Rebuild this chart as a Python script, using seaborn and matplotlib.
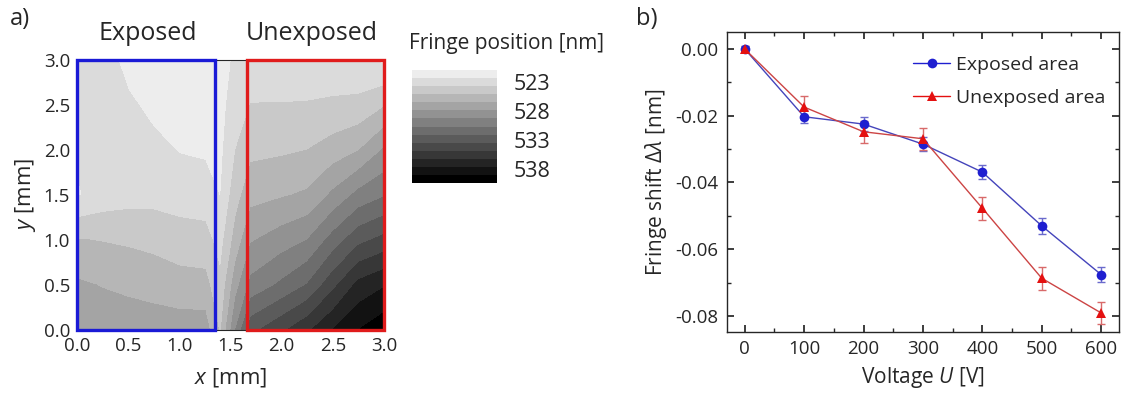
import numpy as np
import pandas as pd
import matplotlib
matplotlib.use("Agg")
import matplotlib.pyplot as plt
from matplotlib.colors import ListedColormap
from matplotlib.patches import Rectangle
import seaborn as sns

# ---- panel a: fringe position map [nm] ----
map_x = [0.0, 0.25, 0.5, 0.75, 1.0, 1.25, 1.4, 1.55, 1.7, 2.0, 2.25, 2.5, 2.75, 3.0]
map_y = [0.0, 0.5, 1.0, 1.5, 2.0, 2.5, 3.0]
fringe_pos = [
    [527.34, 527.34, 527.41, 527.27, 527.20, 527.20, 524.82, 529.30, 533.08, 534.62, 536.02, 537.70, 539.10, 540.08],
    [526.71, 526.43, 526.15, 525.94, 525.66, 525.59, 523.98, 527.34, 529.72, 530.98, 532.17, 534.48, 536.72, 537.56],
    [525.17, 525.03, 524.89, 524.68, 524.33, 524.19, 523.14, 525.66, 527.76, 528.60, 529.30, 531.26, 533.08, 533.92],
    [522.16, 522.86, 523.14, 523.21, 523.07, 523.00, 522.23, 524.54, 526.01, 526.36, 526.71, 528.18, 529.72, 530.56],
    [522.44, 522.86, 522.93, 522.72, 522.23, 522.09, 521.95, 523.70, 524.75, 524.89, 525.10, 525.73, 526.43, 528.04],
    [523.00, 523.00, 522.58, 521.88, 521.60, 521.60, 521.74, 523.14, 523.73, 523.74, 523.77, 523.91, 524.05, 524.96],
    [523.14, 523.14, 521.74, 521.46, 521.39, 521.46, 521.60, 522.58, 523.00, 523.00, 522.93, 522.79, 522.58, 522.02],
]
cbar_ticks = [523, 528, 533, 538]

# ---- panel b: fringe shift vs voltage ----
voltage = [0, 100, 200, 300, 400, 500, 600]
shift_exposed = [0.0, -0.0203, -0.0225, -0.0285, -0.0369, -0.0530, -0.0676]
err_exposed = [0.0008, 0.0020, 0.0020, 0.0020, 0.0021, 0.0023, 0.0023]
shift_unexposed = [0.0, -0.0174, -0.0248, -0.0269, -0.0477, -0.0687, -0.0791]
err_unexposed = [0.0010, 0.0032, 0.0033, 0.0033, 0.0035, 0.0035, 0.0033]

sns.set_theme(style="ticks")
plt.rcParams["font.family"] = ["Open Sans", "DejaVu Sans"]
plt.rcParams["mathtext.fontset"] = "custom"
plt.rcParams["mathtext.rm"] = "Open Sans"
plt.rcParams["mathtext.it"] = "Open Sans:italic"
plt.rcParams["axes.unicode_minus"] = False

fig = plt.figure(figsize=(11.43, 3.95), dpi=100)

# ---------- panel a ----------
ax_a = fig.add_axes([0.0674, 0.1646, 0.2686, 0.6835])
levels = np.linspace(520.9, 540.5, 15)
grays = np.linspace(0.93, 0.0, 14)
cmap = ListedColormap([(g, g, g) for g in grays])
Z = np.array(fringe_pos)
cf = ax_a.contourf(map_x, map_y, Z, levels=levels, cmap=cmap)
ax_a.set_xlim(0, 3)
ax_a.set_ylim(0, 3)
ax_a.set_xticks(np.arange(0, 3.01, 0.5))
ax_a.set_yticks(np.arange(0, 3.01, 0.5))
ax_a.tick_params(direction="in", top=True, right=True, labelsize=13.5, length=4, pad=5)
ax_a.set_xlabel("$x$ [mm]", fontsize=16, labelpad=8)
ax_a.set_ylabel("$y$ [mm]", fontsize=16, labelpad=4)
for s in ax_a.spines.values():
    s.set_linewidth(0.8)

ax_a.add_patch(Rectangle((0.0, 0.0), 1.35, 3.0, fill=False, edgecolor="#1a1ad6", lw=2.4, clip_on=False, zorder=5))
ax_a.add_patch(Rectangle((1.66, 0.0), 1.34, 3.0, fill=False, edgecolor="#e01b1b", lw=2.4, clip_on=False, zorder=5))

fig.text(0.1295, 0.916, "Exposed", fontsize=18, ha="center", va="center")
fig.text(0.273, 0.916, "Unexposed", fontsize=18, ha="center", va="center")
fig.text(0.009, 0.952, "a)", fontsize=17, ha="left", va="center")

# colorbar
cax = fig.add_axes([0.3605, 0.5367, 0.0744, 0.286])
cb = fig.colorbar(cf, cax=cax, ticks=cbar_ticks)
cb.outline.set_visible(False)
cax.invert_yaxis()
cax.tick_params(length=0, labelsize=15.5, pad=12)
fig.text(0.3578, 0.891, "Fringe position [nm]", fontsize=15, ha="left", va="center")

# ---------- panel b ----------
ax_b = fig.add_axes([0.636, 0.1595, 0.343, 0.7595])
df = pd.DataFrame({
    "Voltage": voltage * 2,
    "Shift": shift_exposed + shift_unexposed,
    "Area": ["Exposed area"] * len(voltage) + ["Unexposed area"] * len(voltage),
})
blue, red = "#1f1fd0", "#e41010"
sns.lineplot(data=df, x="Voltage", y="Shift", hue="Area", style="Area",
             palette={"Exposed area": blue, "Unexposed area": red},
             markers={"Exposed area": "o", "Unexposed area": "^"},
             dashes=False, markersize=7, markeredgewidth=0, linewidth=1.0,
             ax=ax_b, zorder=3)
for line, c, mc in zip(ax_b.lines[:2], ["#4444bb", "#cc4444"], [blue, red]):
    line.set_color(c)
    line.set_markerfacecolor(mc)
ax_b.errorbar(voltage, shift_exposed, yerr=err_exposed, fmt="none",
              ecolor="#6a6acc", elinewidth=1, capsize=3, zorder=2)
ax_b.errorbar(voltage, shift_unexposed, yerr=err_unexposed, fmt="none",
              ecolor="#d86a6a", elinewidth=1, capsize=3, zorder=2)

ax_b.set_xlim(-30, 630)
ax_b.set_ylim(-0.0848, 0.0051)
ax_b.set_xticks(voltage)
ax_b.set_xticks([50, 150, 250, 350, 450, 550], minor=True)
ax_b.set_yticks([0.0, -0.02, -0.04, -0.06, -0.08])
ax_b.set_yticks([-0.01, -0.03, -0.05, -0.07], minor=True)
ax_b.set_yticklabels(["0.00", "-0.02", "-0.04", "-0.06", "-0.08"])
ax_b.tick_params(which="both", direction="in", top=True, right=True, labelsize=13.5, pad=6)
ax_b.tick_params(which="major", length=5)
ax_b.tick_params(which="minor", length=3)
ax_b.set_xlabel("Voltage $U$ [V]", fontsize=15, labelpad=5)
ax_b.set_ylabel(r"Fringe shift $\Delta\lambda$ [nm]", fontsize=15, labelpad=5)
for s in ax_b.spines.values():
    s.set_linewidth(1.0)

handles, labels = ax_b.get_legend_handles_labels()
for h in handles:
    h.set_markersize(7)
ax_b.legend(handles, labels, loc="upper right", frameon=False, fontsize=14,
            handlelength=1.9, handletextpad=0.3, borderaxespad=0.3,
            labelspacing=0.75, bbox_to_anchor=(1.0, 0.965))
fig.text(0.5565, 0.952, "b)", fontsize=17, ha="left", va="center")

fig.savefig("out.png", dpi=100)
